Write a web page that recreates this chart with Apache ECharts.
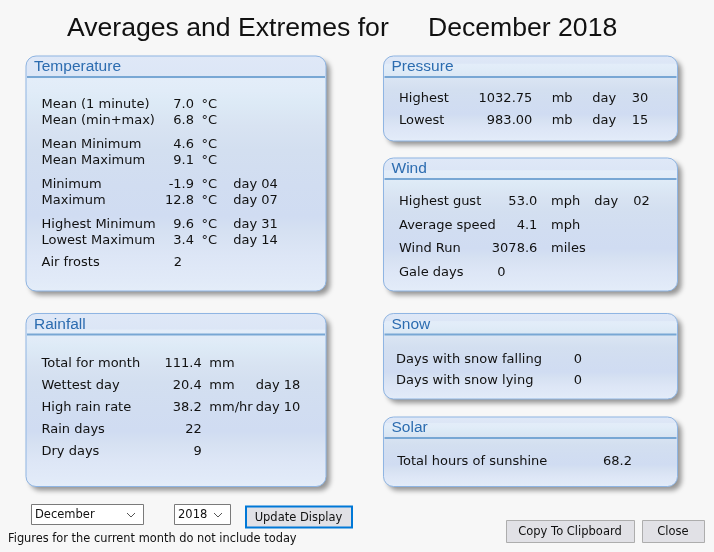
<!DOCTYPE html>
<html><head><meta charset="utf-8">
<script src="https://cdn.jsdelivr.net/npm/echarts@6/dist/echarts.min.js"></script>
<style>html,body{margin:0;padding:0;background:#f7f7f7;}#c{width:714px;height:552px;}</style>
</head><body><div id="c"></div>
<script>
// ---- data ----
const titleLeft = 'Averages and Extremes for';
const titleRight = 'December 2018';
const panelTitles = ['Temperature', 'Pressure', 'Wind', 'Rainfall', 'Snow', 'Solar'];

const tempLabels = ['Mean (1 minute)', 'Mean (min+max)', 'Mean Minimum', 'Mean Maximum', 'Minimum', 'Maximum', 'Highest Minimum', 'Lowest Maximum', 'Air frosts'];
const tempValues = ['7.0', '6.8', '4.6', '9.1', '-1.9', '12.8', '9.6', '3.4', '2'];
const tempUnits = ['°C', '°C', '°C', '°C', '°C', '°C', '°C', '°C', ''];
const tempDays = ['', '', '', '', 'day 04', 'day 07', 'day 31', 'day 14', ''];

const pressLabels = ['Highest', 'Lowest'];
const pressValues = ['1032.75', '983.00'];
const pressUnits = ['mb', 'mb'];
const pressDays = ['30', '15'];

const windLabels = ['Highest gust', 'Average speed', 'Wind Run', 'Gale days'];
const windValues = ['53.0', '4.1', '3078.6', '0'];
const windUnits = ['mph', 'mph', 'miles', ''];
const windDays = ['02', '', '', ''];

const rainLabels = ['Total for month', 'Wettest day', 'High rain rate', 'Rain days', 'Dry days'];
const rainValues = ['111.4', '20.4', '38.2', '22', '9'];
const rainUnits = ['mm', 'mm', 'mm/hr', '', ''];
const rainDays = ['', 'day 18', 'day 10', '', ''];

const snowLabels = ['Days with snow falling', 'Days with snow lying'];
const snowValues = ['0', '0'];

const solarLabels = ['Total hours of sunshine'];
const solarValues = ['68.2'];

const monthSel = 'December';
const yearSel = '2018';
const buttonLabels = ['Update Display', 'Copy To Clipboard', 'Close'];
const footNote = 'Figures for the current month do not include today';

// ---- layout ----
const F = '"DejaVu Sans", Verdana, sans-serif';
const TXT = '#111111';
const BODY = 13;
const DY = 1.8;
const g = [];

function panelFill() {
  return new echarts.graphic.LinearGradient(0, 0, 0, 1, [
    {offset: 0, color: '#dfe8f7'}, {offset: 0.09, color: '#dce6f6'},
    {offset: 0.1, color: '#e3edf9'}, {offset: 0.15, color: '#e1ecf8'},
    {offset: 0.2, color: '#ddeaf6'}, {offset: 0.3, color: '#d8e3f2'},
    {offset: 0.4, color: '#d3dff0'}, {offset: 0.55, color: '#d1ddf1'},
    {offset: 0.68, color: '#d0dcf2'}, {offset: 0.75, color: '#d6e1f2'},
    {offset: 0.85, color: '#dde6f6'}, {offset: 0.95, color: '#e1eaf8'},
    {offset: 1, color: '#e4edf9'}
  ]);
}

function panel(x, y, w, h, title) {
  g.push({type: 'rect', shape: {x: x, y: y, width: w, height: h, r: 10}, z: 1,
    style: {fill: '#c8c8c8', shadowBlur: 5, shadowOffsetX: 4, shadowOffsetY: 4, shadowColor: 'rgba(0,0,0,0.4)'}});
  g.push({type: 'rect', shape: {x: x, y: y, width: w, height: h, r: 10}, z: 2,
    style: {fill: panelFill(), stroke: '#8fb5e3', lineWidth: 1}});
  g.push({type: 'line', shape: {x1: x + 1, y1: y + 21, x2: x + w - 1, y2: y + 21}, z: 3,
    style: {stroke: '#78a7d4', lineWidth: 2}});
  g.push({type: 'text', x: x + 8, y: y + 11, z: 4,
    style: {text: title, fill: '#2c6cb0', font: '15.5px "Liberation Sans", Arial, sans-serif', verticalAlign: 'middle', align: 'left'}});
}

function txt(x, y, s, align, size, font) {
  if (s === '' || s == null) return;
  g.push({type: 'text', x: x, y: y, z: 5,
    style: {text: s, fill: TXT, font: (size || BODY) + 'px ' + (font || F), align: align || 'left', verticalAlign: 'middle'}});
}
function row(x, y, s, align) { txt(x, y + DY, s, align); }

// Title
txt(67, 29, titleLeft, 'left', 26.6, '"Liberation Sans", Arial, sans-serif');
txt(428, 29, titleRight, 'left', 26.6, '"Liberation Sans", Arial, sans-serif');

// Temperature
panel(26, 56, 300, 235, panelTitles[0]);
const tempY = [103.3, 119.3, 143.3, 159.3, 183.3, 199.3, 223.3, 239.3, 261.3];
tempLabels.forEach((l, i) => {
  row(41.5, tempY[i], l);
  if (tempUnits[i]) row(194, tempY[i], tempValues[i], 'right');
  else row(182, tempY[i], tempValues[i], 'right');
  row(201.5, tempY[i], tempUnits[i]);
  row(233.3, tempY[i], tempDays[i]);
});

// Pressure
panel(383.5, 56, 294, 85, panelTitles[1]);
const pressY = [96.7, 118.7];
pressLabels.forEach((l, i) => {
  row(399, pressY[i], l);
  row(532.3, pressY[i], pressValues[i], 'right');
  row(551.7, pressY[i], pressUnits[i]);
  row(592.3, pressY[i], 'day');
  row(631.7, pressY[i], pressDays[i]);
});

// Wind
panel(383.5, 158, 294, 133, panelTitles[2]);
const windY = [200, 223.7, 247.3, 271.3];
windLabels.forEach((l, i) => {
  row(399, windY[i], l);
  if (windUnits[i]) row(537.3, windY[i], windValues[i], 'right');
  else row(505.5, windY[i], windValues[i], 'right');
  row(551, windY[i], windUnits[i]);
  if (windDays[i]) { row(594.3, windY[i], 'day'); row(633.3, windY[i], windDays[i]); }
});

// Rainfall
panel(26, 313.5, 300, 173, panelTitles[3]);
const rainY = [362.3, 384.3, 406.3, 428.3, 450.3];
rainLabels.forEach((l, i) => {
  row(41.5, rainY[i], l);
  row(201.7, rainY[i], rainValues[i], 'right');
  row(209.3, rainY[i], rainUnits[i]);
  row(255.7, rainY[i], rainDays[i]);
});

// Snow
panel(383.5, 313.5, 294, 85.5, panelTitles[4]);
const snowY = [357.7, 379.3];
snowLabels.forEach((l, i) => {
  row(396, snowY[i], l);
  row(582, snowY[i], snowValues[i], 'right');
});

// Solar
panel(383.5, 417, 294, 69.5, panelTitles[5]);
const solarY = [460];
solarLabels.forEach((l, i) => {
  row(397.3, solarY[i], l);
  row(632, solarY[i], solarValues[i], 'right');
});

// Controls
function selectBox(x, y, w, h, s) {
  g.push({type: 'rect', shape: {x: x + 0.5, y: y + 0.5, width: w, height: h}, z: 2,
    style: {fill: '#ffffff', stroke: '#7a7a7a', lineWidth: 1}});
  txt(x + 4, y + h / 2 + 1.5, s, 'left', 11.5);
  const cx = x + w - 12, cy = y + h / 2 + 1;
  g.push({type: 'polyline', shape: {points: [[cx - 4, cy - 2], [cx, cy + 2], [cx + 4, cy - 2]]}, z: 3,
    style: {stroke: '#555555', lineWidth: 1, fill: null}});
}
function button(x, y, w, h, s, blue) {
  g.push({type: 'rect', shape: {x: x + (blue ? 1 : 0.5), y: y + (blue ? 1 : 0.5), width: w - (blue ? 1 : 0), height: h - (blue ? 1 : 0)}, z: 2,
    style: {fill: '#e1e1e6', stroke: blue ? '#0078d7' : '#adadad', lineWidth: blue ? 2 : 1}});
  txt(x + w / 2, y + h / 2 + 1.5, s, 'center', 11.5);
}
selectBox(31, 504, 112, 20, monthSel);
selectBox(174, 504, 56, 20, yearSel);
button(245, 505.5, 107, 22, buttonLabels[0], true);
button(506, 520, 128, 22, buttonLabels[1], false);
button(642, 520, 62, 22, buttonLabels[2], false);
txt(8, 539, footNote, 'left', 11.4);

const chart = echarts.init(document.getElementById('c'), null, {renderer: 'canvas'});
chart.setOption({backgroundColor: '#f7f7f7', animation: false, graphic: {elements: g}});
</script></body></html>
